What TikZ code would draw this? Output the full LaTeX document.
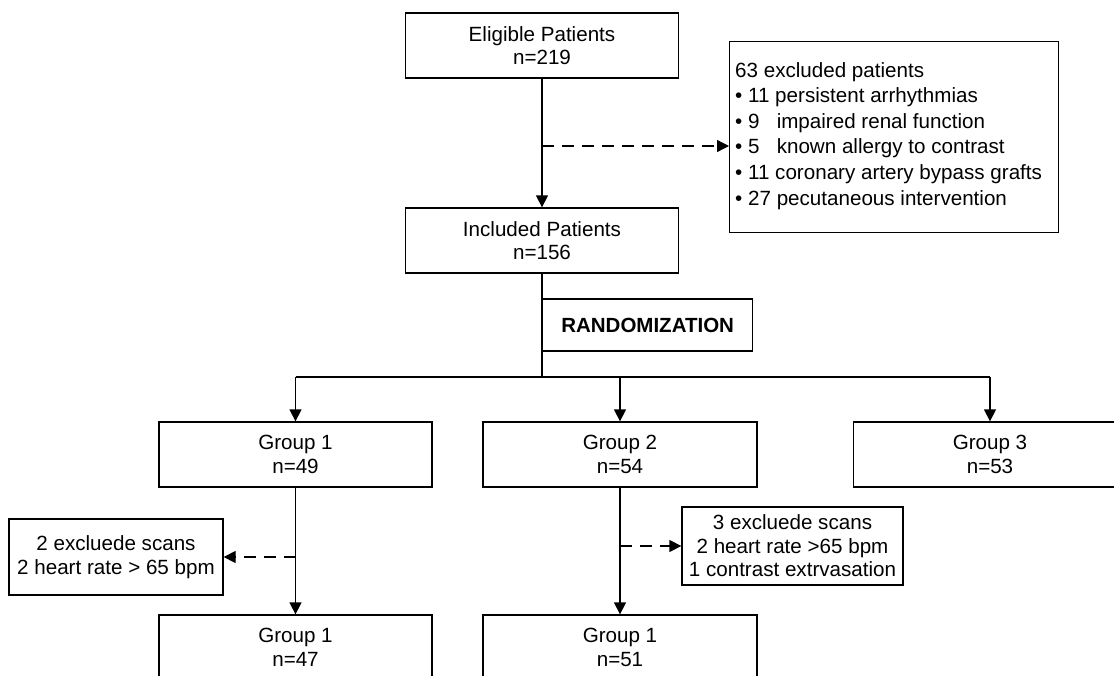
\documentclass[tikz,border=0pt]{standalone}
\usepackage{fontspec}
\setmainfont{Liberation Sans}
\usetikzlibrary{arrows.meta}
\begin{document}
\begin{tikzpicture}[x=1pt,y=-1pt,
  every node/.style={font=\fontsize{20.6}{23.5}\selectfont},
  box/.style={draw=black,line width=1.3pt,align=center,inner sep=0pt},
  conn/.style={draw=black,line width=1.3pt},
  arr/.style={conn,-{Triangle[length=12pt,width=12pt]}},
  darr/.style={conn,dash pattern=on 12pt off 8pt,-{Triangle[length=12pt,width=12pt]}}]
\useasboundingbox (0,0) rectangle (1114,675);
\fill[white] (0,0) rectangle (1114,675);
\clip (0,0) rectangle (1114,675);
% boxes
\node[box,minimum width=273pt,minimum height=65pt] (elig) at (542,45.5) {Eligible Patients\\n=219};
\node[box,minimum width=273pt,minimum height=65pt] (incl) at (542,240.5) {Included Patients\\n=156};
\node[box,minimum width=329pt,minimum height=191pt,anchor=north west] (excl) at (729,41) {};
\node[inner sep=0pt,anchor=north west,align=left,font=\fontsize{20.6}{25.6}\selectfont] (excltxt) at (735,62)
  {63 excluded patients\\
   \textbullet\ 11 persistent arrhythmias\\
   \textbullet\ 9\hphantom{1}\ impaired renal function\\
   \textbullet\ 5\hphantom{1}\ known allergy to contrast\\
   \textbullet\ 11 coronary artery bypass grafts\\
   \textbullet\ 27 pecutaneous intervention};
\node[box,minimum width=210pt,minimum height=52pt,anchor=west,font=\fontsize{20.5}{24}\selectfont\bfseries] (rand) at (542,325) {RANDOMIZATION};
\node[box,minimum width=273pt,minimum height=65pt] (g1) at (295.5,454.5) {Group 1\\n=49};
\node[box,minimum width=274pt,minimum height=65pt] (g2) at (620,454.5) {Group 2\\n=54};
\node[box,minimum width=273pt,minimum height=65pt] (g3) at (990,454.5) {Group 3\\n=53};
\node[box,minimum width=214pt,minimum height=76pt] (ex1) at (116,557) {2 excluede scans\\2 heart rate > 65 bpm};
\node[box,minimum width=221pt,minimum height=78pt] (ex2) at (792.5,546) {3 excluede scans\\2 heart rate >65 bpm\\1 contrast extrvasation};
\node[box,minimum width=273pt,minimum height=65pt] (g1b) at (295.5,647.5) {Group 1\\n=47};
\node[box,minimum width=274pt,minimum height=65pt] (g2b) at (620,647.5) {Group 1\\n=51};
% connectors
\coordinate (d1) at (542,146);
\draw[arr] (elig.south) -- (incl.north);
\draw[darr] (d1) -- (excl.west |- d1);
\coordinate (j) at (542,377);
\coordinate (j1) at (295.5,377);
\coordinate (j2) at (620,377);
\coordinate (j3) at (990,377);
\draw[conn] (incl.south) -- (j);
\draw[conn] (j1) -- (j3);
\draw[arr] (j1) -- (g1.north);
\draw[arr] (j2) -- (g2.north);
\draw[arr] (j3) -- (g3.north);
\coordinate (d2) at (295.5,557);
\coordinate (d3) at (620,546);
\draw[arr] (g1.south) -- (g1b.north);
\draw[arr] (g2.south) -- (g2b.north);
\draw[darr] (d2) -- (ex1.east);
\draw[darr] (d3) -- (ex2.west);
\end{tikzpicture}
\end{document}
